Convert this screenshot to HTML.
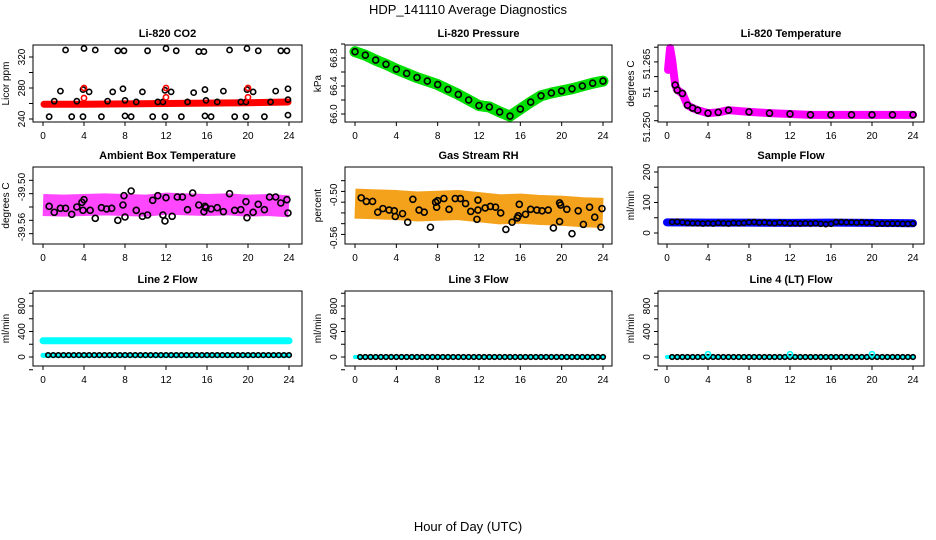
<!DOCTYPE html>
<html><head><meta charset="utf-8"><style>
body{margin:0;background:#fff}
svg{display:block;font-family:"Liberation Sans",sans-serif}
</style></head><body>
<svg id="c" width="936" height="540">
<text x="468" y="14" text-anchor="middle" font-size="13">HDP_141110  Average Diagnostics</text>
<text x="468" y="531" text-anchor="middle" font-size="13">Hour of Day (UTC)</text>
</svg>
<script>
const xTicks=[0,4,8,12,16,20,24];
// CO2
const co2BandH=[0.1,4,8,12,16,20,23.9];
const co2BandV=[259,259,259.5,260,260.5,261,262];
const co2PtsH=[0.6,1.1,1.7,2.2,2.8,3.3,3.9,3.9,4,4.5,5.1,5.7,6.3,6.8,7.3,7.8,7.9,8,8,8.6,9.1,9.7,10.2,10.7,11.2,11.7,11.9,11.9,12,12.5,13,13.5,14.1,14.7,15.2,15.7,15.8,15.9,15.8,16.4,17,17.6,18.2,18.7,19.3,19.8,19.8,19.9,19.9,20.5,21,21.6,22.2,22.7,23.2,23.8,23.9,23.9,23.9];
const co2PtsV=[243,263,276,329,243,263,278,243,331,275,329,243,263,275,328,279,328,264,244,243,262,275,328,243,262,262,243,277,331,275,328,243,262,274,327,327,278,264,244,243,262,276,329,243,262,262,243,331,278,275,328,243,262,276,328,328,279,265,245];
const co2RedH=[4,4,12,12,20,20];
const co2RedV=[280,267,280,268,280,268];
// Pressure
const presH=[0,1,2,3,4,5,6,7,8,9,10,11,12,13,14,15,16,17,18,19,20,21,22,23,24];
const presV=[66.89,66.84,66.77,66.71,66.64,66.58,66.52,66.47,66.42,66.35,66.28,66.2,66.12,66.1,66.03,65.97,66.07,66.17,66.26,66.3,66.33,66.36,66.4,66.44,66.47];
// Temperature
const tempH=[0.1,0.3,0.5,0.8,1,1.5,2,2.5,3,4,5,6,8,10,12,14,16,18,20,22,24];
const tempV=[51.2636,51.2688,51.266,51.26,51.2588,51.258,51.2552,51.2545,51.254,51.2533,51.2535,51.254,51.2536,51.2533,51.2531,51.2529,51.2529,51.2529,51.2529,51.2529,51.2529];
// Ambient
const ambH=[0,2,4,6,8,10,12,14,16,18,20,22,24];
const ambV=[-39.527,-39.528,-39.527,-39.526,-39.527,-39.528,-39.525,-39.526,-39.527,-39.526,-39.528,-39.527,-39.529];
const ambPtsH=[0.6,1.1,1.7,2.2,2.8,3.3,3.8,3.9,4,4.6,5.1,5.7,6.2,6.7,7.3,7.8,7.9,8,8.6,9.1,9.7,10.2,10.7,11.2,11.7,11.9,12,12.6,13.1,13.6,14.1,14.6,15.2,15.7,15.8,15.9,16.4,17,17.6,18.2,18.7,19.3,19.8,19.9,20.5,21,21.6,22.1,22.7,23.2,23.8,23.9];
const ambPtsV=[-39.529,-39.538,-39.532,-39.532,-39.541,-39.53,-39.523,-39.535,-39.519,-39.535,-39.547,-39.531,-39.533,-39.532,-39.55,-39.527,-39.513,-39.545,-39.506,-39.535,-39.544,-39.542,-39.52,-39.513,-39.542,-39.551,-39.516,-39.544,-39.515,-39.515,-39.534,-39.509,-39.527,-39.537,-39.529,-39.531,-39.533,-39.531,-39.537,-39.51,-39.535,-39.534,-39.522,-39.546,-39.538,-39.526,-39.534,-39.515,-39.515,-39.524,-39.519,-39.539];
// Gas RH
const rhH=[0,2,4,6,8,10,12,14,16,18,20,22,24];
const rhV=[-0.512,-0.513,-0.514,-0.516,-0.515,-0.514,-0.517,-0.52,-0.519,-0.521,-0.522,-0.524,-0.525];
const rhPtsH=[0.6,1.1,1.7,2.2,2.7,3.3,3.8,3.9,4.6,5.1,5.6,6.2,6.7,7.3,7.8,7.9,8,8.6,9.1,9.7,10.2,10.7,11.2,11.8,11.9,11.9,12.6,13.1,13.6,14.1,14.6,15.2,15.7,15.8,15.9,16.5,17,17.6,18.1,18.7,19.2,19.8,19.8,19.9,20.5,21,21.6,22.1,22.7,23.2,23.8,23.9];
const rhPtsV=[-0.504,-0.509,-0.509,-0.524,-0.519,-0.521,-0.522,-0.53,-0.526,-0.538,-0.506,-0.521,-0.524,-0.545,-0.51,-0.517,-0.508,-0.505,-0.52,-0.505,-0.505,-0.512,-0.523,-0.534,-0.507,-0.521,-0.518,-0.516,-0.517,-0.525,-0.548,-0.538,-0.532,-0.529,-0.513,-0.527,-0.52,-0.521,-0.522,-0.521,-0.546,-0.537,-0.511,-0.514,-0.52,-0.554,-0.522,-0.541,-0.517,-0.531,-0.545,-0.519];
// Sample flow
const sfH=[0,4,8,12,16,20,24];
const sfV=[35,34,34,33,34,33,32];
const sfPtsH=[0.5,1,1.5,2,2.5,3,3.5,4,4.5,5,5.5,6,6.5,7,7.5,8,8.5,9,9.5,10,10.5,11,11.5,12,12.5,13,13.5,14,14.5,15,15.5,16,16.5,17,17.5,18,18.5,19,19.5,20,20.5,21,21.5,22,22.5,23,23.5,24];
const sfPtsV=[36,37,35,33,32,32,31,32,31,33,32,31,33,32,33,35,36,34,35,33,32,34,33,32,32,31,32,31,32,30,29,30,36,36,35,35,34,35,34,34,30,31,31,31,31,30,30,31];
// Line 2
const l2H=[0,4,8,12,16,20,24];
const l2BandV=[255,255,255,255,255,255,255];
const l2LowV=[25,25,25,25,25,25,25];
// Lines 3 / 4
const l3V=[0,0,0,0,0,0,0];
const l4BumpH=[4,12,20];
const l4BumpV=[45,45,45];

const svg=document.getElementById('c');
const NS='http://www.w3.org/2000/svg';
function mk(tag,attrs,parent){const e=document.createElementNS(NS,tag);for(const k in attrs)e.setAttribute(k,attrs[k]);(parent||svg).appendChild(e);return e;}

function panel(p){
  const g=mk('g',{});
  
  
  const sx=h=>p.x0+(p.x1-p.x0)*h/24;
  const sy=v=>p.ya+(v-p.va)*(p.yb-p.ya)/(p.vb-p.va);
  const plot=mk('g',{},g);
  
  
  (p.bands||[]).forEach(b=>{
    const pl=mk('polyline',{points:b.h.map((h,i)=>sx(h)+','+sy(b.v[i])).join(' '),fill:'none',stroke:b.c,'stroke-width':b.w,'stroke-linecap':b.w>12?'butt':'round','stroke-linejoin':'round','stroke-opacity':b.o||1},plot);
    
    
  });
  (p.pts||[]).forEach(s=>{
    s.h.forEach((h,i)=>{
      const c=mk('circle',{cx:sx(h),cy:sy(s.v[i]),r:s.r||2.6,fill:'none',stroke:s.c,'stroke-width':s.sw||1.6},plot);
      
      
    });
  });
  const box=mk('rect',{x:p.bx0,y:p.by0,width:p.bx1-p.bx0,height:p.by1-p.by0,fill:'none',stroke:'#000','stroke-width':1},g);
  
  
  xTicks.forEach(t=>{
    mk('line',{x1:sx(t),x2:sx(t),y1:p.by1,y2:p.by1+4,stroke:'#000'},g);
    const tx=mk('text',{x:sx(t),y:p.by1+17,'text-anchor':'middle','font-size':10},g);tx.textContent=t;
    
    
  });
  p.yt.forEach(t=>mk('line',{x1:p.bx0,x2:p.bx0-4,y1:sy(t),y2:sy(t),stroke:'#000'},g));
  p.yl.forEach((t,i)=>{
    const yy=sy(p.ylv[i]);const xx=p.bx0-8;
    const tx=mk('text',{x:xx,y:yy,'text-anchor':'middle','font-size':10,transform:`rotate(-90 ${xx} ${yy})`},g);
    tx.textContent=t;
    
    
  });
  const yx=p.bx0-24, ym=(p.by0+p.by1)/2;
  const yt=mk('text',{x:yx,y:ym,'text-anchor':'middle','font-size':10,transform:`rotate(-90 ${yx} ${ym})`},g);
  yt.textContent=p.ylab;
  
  
  const tt=mk('text',{x:(p.bx0+p.bx1)/2,y:p.by0-8,'text-anchor':'middle','font-size':11,'font-weight':'bold'},g);
  tt.textContent=p.title;
  
  
}
const C1={bx0:33,bx1:302,x0:43,x1:289},C2={bx0:345,bx1:612,x0:355,x1:603},C3={bx0:658,bx1:924,x0:667,x1:913};
const R1={by0:45,by1:122},R2={by0:167,by1:244},R3={by0:291,by1:366};
panel({...C1,...R1,name:'co2-panel',title:'Li-820 CO2',ylab:'Licor ppm',va:240,ya:119,vb:320,yb:57,yt:[240,260,280,300,320],yl:['240','280','320'],ylv:[240,280,320],
  bands:[{h:co2BandH,v:co2BandV,c:'#ff0000',w:7}],
  pts:[{h:co2PtsH,v:co2PtsV,c:'#000'},{h:co2RedH,v:co2RedV,c:'#ff0000'}]});
panel({...C2,...R1,name:'pressure-panel',title:'Li-820 Pressure',ylab:'kPa',va:66.0,ya:114,vb:66.8,yb:58,yt:[66.0,66.2,66.4,66.6,66.8,67.0],yl:['66.0','66.4','66.8'],ylv:[66.0,66.4,66.8],
  bands:[{h:presH,v:presV,c:'#00e000',w:11}],
  pts:[{h:presH,v:presV,c:'#000',r:3}]});
panel({...C3,...R1,name:'temperature-panel',title:'Li-820 Temperature',ylab:'degrees C',va:51.25,ya:127,vb:51.265,yb:64,yt:[51.2515,51.255,51.2585,51.262,51.2655,51.269],yl:['51.250','51','51.265'],ylv:[51.25,51.2583,51.265],
  bands:[{h:tempH,v:tempV,c:'#ff00ff',w:8}],
  pts:[{h:tempH.slice(3),v:tempV.slice(3),c:'#000',r:3}]});
panel({...C1,...R2,name:'ambient-temp-panel',title:'Ambient Box Temperature',ylab:'degrees C',va:-39.50,ya:187,vb:-39.56,yb:227,yt:[-39.49,-39.51,-39.53,-39.55,-39.57],yl:['-39.50','-39.56'],ylv:[-39.50,-39.56],
  bands:[{h:ambH,v:ambV,c:'#ff33ff',w:22,o:0.9}],
  pts:[{h:ambPtsH,v:ambPtsV,c:'#000',r:3}]});
panel({...C2,...R2,name:'gas-rh-panel',title:'Gas Stream RH',ylab:'percent',va:-0.50,ya:195,vb:-0.56,yb:238,yt:[-0.48,-0.495,-0.51,-0.525,-0.54,-0.555],yl:['-0.50','-0.56'],ylv:[-0.50,-0.56],
  bands:[{h:rhH,v:rhV,c:'#f4a21c',w:30}],
  pts:[{h:rhPtsH,v:rhPtsV,c:'#000',r:3}]});
panel({...C3,...R2,name:'sample-flow-panel',title:'Sample Flow',ylab:'ml/min',va:0,ya:233,vb:200,yb:172,yt:[0,50,100,150,200],yl:['0','100','200'],ylv:[0,100,200],
  bands:[{h:sfH,v:sfV,c:'#0000ff',w:8}],
  pts:[{h:sfPtsH,v:sfPtsV,c:'#000',r:2.5}]});
const l2Pts=[0.5,1,1.5,2,2.5,3,3.5,4,4.5,5,5.5,6,6.5,7,7.5,8,8.5,9,9.5,10,10.5,11,11.5,12,12.5,13,13.5,14,14.5,15,15.5,16,16.5,17,17.5,18,18.5,19,19.5,20,20.5,21,21.5,22,22.5,23,23.5,24];
const l2PtsV=[30,30,30,30,30,30,30,30,30,30,30,30,30,30,30,30,30,30,30,30,30,30,30,30,30,30,30,30,30,30,30,30,30,30,30,30,30,30,30,30,30,30,30,30,30,30,30,30];
const zeroPtsV=[0,0,0,0,0,0,0,0,0,0,0,0,0,0,0,0,0,0,0,0,0,0,0,0,0,0,0,0,0,0,0,0,0,0,0,0,0,0,0,0,0,0,0,0,0,0,0,0];
const flowAx={va:0,ya:357,vb:800,yb:306,yt:[-200,0,200,400,600,800,1000],yl:['0','400','800'],ylv:[0,400,800],ylab:'ml/min'};
panel({...C1,...R3,...flowAx,name:'line2-flow-panel',title:'Line 2 Flow',
  bands:[{h:l2H,v:l2BandV,c:'#00ffff',w:7},{h:l2H,v:l2LowV,c:'#00ffff',w:5}],
  pts:[{h:l2Pts,v:l2PtsV,c:'#000',r:2.3}]});
panel({...C2,...R3,...flowAx,name:'line3-flow-panel',title:'Line 3 Flow',
  bands:[{h:l2H,v:l3V,c:'#00ffff',w:4}],
  pts:[{h:l2Pts,v:zeroPtsV,c:'#000',r:2.3}]});
panel({...C3,...R3,...flowAx,name:'line4-flow-panel',title:'Line 4 (LT) Flow',
  bands:[{h:l2H,v:l3V,c:'#00ffff',w:4}],
  pts:[{h:l2Pts,v:zeroPtsV,c:'#000',r:2.3},{h:l4BumpH,v:l4BumpV,c:'#00ffff',r:2.5}]});
</script>
</body></html>
